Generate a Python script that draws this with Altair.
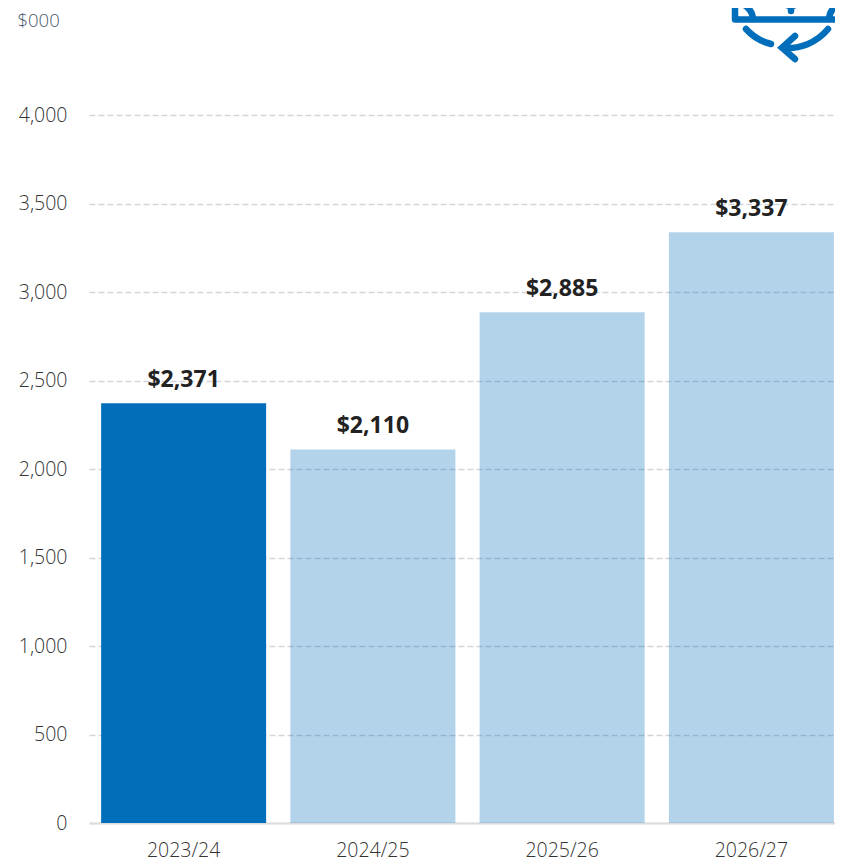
import altair as alt
import pandas as pd

years = ["2023/24", "2024/25", "2025/26", "2026/27"]
values = [2371, 2110, 2885, 3337]
labels = ["$2,371", "$2,110", "$2,885", "$3,337"]
opacities = [1.0, 0.3, 0.3, 0.3]
y_ticks = [0, 500, 1000, 1500, 2000, 2500, 3000, 3500, 4000]

BLUE = "#006EBA"
FONT = "Open Sans"
ICON = ("M-56,-3.5 H62 M-56,-3.5 V-26 M-54,-20 A17,17 0 0 1 -38,-3.5 "
        "M38,-3.5 A18,18 0 0 1 56,-21 M-45,6 A50,50 0 0 0 -20,21 "
        "M4,13 L-9,24.7 L4,36 M-9,24.7 A52,52 0 0 0 37,6 "
        "M0,-30 V-12 M-8,-23 A8,6 0 0 0 8,-23")

df = pd.DataFrame({"year": years, "value": values, "label": labels, "op": opacities})

x = alt.X("year:N", title=None, sort=years,
          scale=alt.Scale(range=[0, 757], paddingInner=0.128, paddingOuter=0.064),
          axis=alt.Axis(labelAngle=0, ticks=False, labelPadding=18, labelFontSize=19.5,
                        labelColor="#333333", labelFont=FONT, labelFontWeight=300,
                        domainColor="#dcdcdc", domainWidth=2, grid=False))
y = alt.Y("value:Q", scale=alt.Scale(domain=[0, 4000], nice=False),
          axis=alt.Axis(values=y_ticks, format=",.0f", ticks=False, domain=False, labelPadding=22,
                        labelFontSize=19.5, labelColor="#333333", labelFont=FONT, labelFontWeight=300,
                        grid=True, gridColor="#d2d6da", gridDash=[6, 3], gridWidth=1.3,
                        title="$000", titleAngle=0, titleX=-72, titleY=-95, titleAlign="left",
                        titleBaseline="middle", titleFont=FONT, titleFontSize=18.5,
                        titleFontWeight=300, titleColor="#47596a"))

bars = alt.Chart(df).mark_bar(color=BLUE, size=165).encode(
    x=x, y=y, opacity=alt.Opacity("op:Q", scale=None))
text = alt.Chart(df).mark_text(font=FONT, fontSize=23, fontWeight="bold", color="#222222",
                               baseline="middle", dy=-23.5).encode(
    x=x, y=y, text="label:N")
icon = alt.Chart(df.head(1)).mark_point(
    shape=ICON, size=4, filled=False, stroke=BLUE, strokeWidth=6.5, strokeCap="round", opacity=1
).encode(x=alt.value(702), y=alt.value(-92))

chart = alt.layer(bars, text, icon).properties(
    width=746, height=708,
    padding={"left": 81, "top": 107, "right": 0, "bottom": 40},
    autosize=alt.AutoSizeParams(type="none"),
).configure_view(stroke=None)

chart.save("out.html", embed_options={"renderer": "svg", "actions": False})
